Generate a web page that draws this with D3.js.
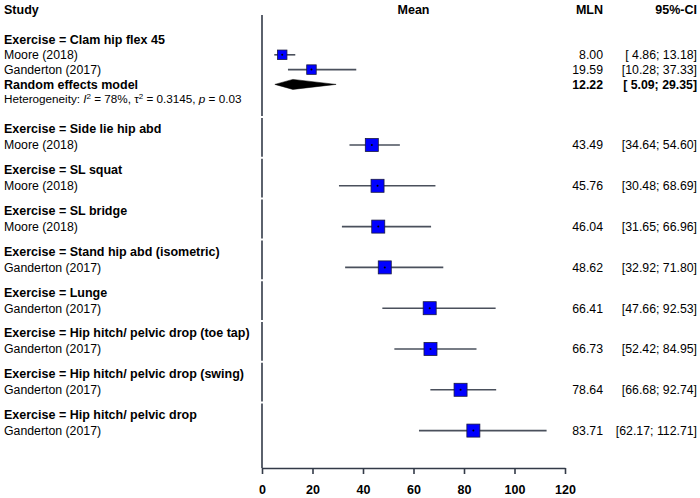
<!DOCTYPE html>
<html><head><meta charset="utf-8">
<script src="https://cdn.jsdelivr.net/npm/d3@7"></script>
<style>
html,body{margin:0;padding:0;background:#fff;}
svg{display:block;font-family:"Liberation Sans",Arial,sans-serif;}
text{white-space:pre;}
</style></head><body>
<svg id="chart" width="700" height="498"></svg>
<script>
// ---- data ----
const groupNames = ["Clam hip flex 45", "Side lie hip abd", "SL squat", "SL bridge",
  "Stand hip abd (isometric)", "Lunge", "Hip hitch/ pelvic drop (toe tap)",
  "Hip hitch/ pelvic drop (swing)", "Hip hitch/ pelvic drop"];
const studyLabels = ["Moore (2018)", "Ganderton (2017)", "Moore (2018)", "Moore (2018)", "Moore (2018)",
  "Ganderton (2017)", "Ganderton (2017)", "Ganderton (2017)", "Ganderton (2017)", "Ganderton (2017)"];
const studyGroup = [0, 0, 1, 2, 3, 4, 5, 6, 7, 8];
const means = [8.00, 19.59, 43.49, 45.76, 46.04, 48.62, 66.41, 66.73, 78.64, 83.71];
const lower = [4.86, 10.28, 34.64, 30.48, 31.65, 32.92, 47.66, 52.42, 66.68, 62.17];
const upper = [13.18, 37.33, 54.60, 68.69, 66.96, 71.80, 92.53, 84.95, 92.74, 112.71];
const boxWeight = [0.5, 0.5, 1, 1, 1, 1, 1, 1, 1, 1];
const pooled = {label: "Random effects model", mean: 12.22, lo: 5.09, hi: 29.35};
const xTicks = [0, 20, 40, 60, 80, 100, 120];

// ---- layout ----
const svg = d3.select("#chart");
const x = d3.scaleLinear().domain([0, 120]).range([262, 565]);
const axisY = 468;
const lineCol = "#4a505c";
const fmt = d3.format(".2f");
const pad = v => { const s = fmt(v); return s.length < 5 ? " " + s : s; };
const ciText = (lo, hi) => "[" + pad(lo) + "; " + fmt(hi) + "]";

// y positions
const clamHeader = 40, lh = 14.8;
const gY = d3.scaleLinear().domain([1, 8]).range([145, 430.6]); // study row of groups 1..8
function studyY(i) {
  const g = studyGroup[i];
  if (g === 0) return clamHeader + lh * (i + 1);
  return gY(g);
}
function headerY(g) { return g === 0 ? clamHeader : gY(g) - 16; }
const pooledY = clamHeader + lh * 3;
const hetY = clamHeader + lh * 4;

// headers
const hdr = svg.append("g").attr("font-weight", "bold").attr("font-size", 12.5).attr("fill", "#000");
hdr.append("text").attr("x", 4).attr("y", 10).attr("dy", "0.35em").text("Study");
hdr.append("text").attr("x", x(60)).attr("y", 10).attr("dy", "0.35em").attr("text-anchor", "middle").text("Mean");
hdr.append("text").attr("x", 603).attr("y", 10).attr("dy", "0.35em").attr("text-anchor", "end").text("MLN");
hdr.append("text").attr("x", 697).attr("y", 10).attr("dy", "0.35em").attr("text-anchor", "end").text("95%-CI");

// reference line (segmented by group)
const segs = [];
for (let g = 0; g < groupNames.length; g++) {
  const top = g === 0 ? 15 : headerY(g) - 11;
  const bot = g === groupNames.length - 1 ? axisY : headerY(g + 1) - 13;
  segs.push([top, bot]);
}
svg.append("g").selectAll("line").data(segs).join("line")
  .attr("x1", x(0)).attr("x2", x(0)).attr("y1", d => d[0]).attr("y2", d => d[1])
  .attr("stroke", "#333a48").attr("stroke-width", 1.6);

// group headers
svg.append("g").selectAll("text").data(groupNames).join("text")
  .attr("x", 4).attr("y", (d, g) => headerY(g)).attr("dy", "0.35em")
  .attr("font-weight", "bold").attr("font-size", 12.5).text(d => "Exercise = " + d);

// study labels
const idx = d3.range(means.length);
svg.append("g").selectAll("text").data(idx).join("text")
  .attr("x", 4).attr("y", i => studyY(i)).attr("dy", "0.35em")
  .attr("font-size", 12.3).text(i => studyLabels[i]);

// CI lines
svg.append("g").selectAll("line").data(idx).join("line")
  .attr("x1", i => x(lower[i])).attr("x2", i => x(upper[i]))
  .attr("y1", i => studyY(i)).attr("y2", i => studyY(i))
  .attr("stroke", lineCol).attr("stroke-width", 1.6);

// boxes
const bs = w => 9.5 + 3.5 * (w - 0.5) * 2;
svg.append("g").selectAll("rect").data(idx).join("rect")
  .attr("x", i => x(means[i]) - bs(boxWeight[i]) / 2)
  .attr("y", i => studyY(i) - bs(boxWeight[i]) / 2)
  .attr("width", i => bs(boxWeight[i])).attr("height", i => bs(boxWeight[i]))
  .attr("fill", "#0000ff").attr("stroke", "#1a1a40").attr("stroke-width", 0.8);
svg.append("g").selectAll("circle").data(idx).join("circle")
  .attr("cx", i => x(means[i])).attr("cy", i => studyY(i)).attr("r", 1)
  .attr("fill", "#000");

// numbers
svg.append("g").selectAll("text").data(idx).join("text")
  .attr("x", 603).attr("y", i => studyY(i)).attr("dy", "0.35em").attr("text-anchor", "end")
  .attr("font-size", 12.3).text(i => fmt(means[i]));
svg.append("g").selectAll("text").data(idx).join("text")
  .attr("x", 697).attr("y", i => studyY(i)).attr("dy", "0.35em").attr("text-anchor", "end")
  .attr("font-size", 12.3).text(i => ciText(lower[i], upper[i]));

// pooled
svg.append("text").attr("x", 4).attr("y", pooledY).attr("dy", "0.35em")
  .attr("font-weight", "bold").attr("font-size", 12.5).text(pooled.label);
svg.append("path")
  .attr("d", d3.line()([[x(pooled.lo), pooledY], [x(pooled.mean), pooledY - 5],
    [x(pooled.hi), pooledY], [x(pooled.mean), pooledY + 5]]) + "Z")
  .attr("fill", "#000").attr("stroke", "#000").attr("stroke-width", 0.5);
svg.append("text").attr("x", 603).attr("y", pooledY).attr("dy", "0.35em").attr("text-anchor", "end")
  .attr("font-weight", "bold").attr("font-size", 12.3).text(fmt(pooled.mean));
svg.append("text").attr("x", 697).attr("y", pooledY).attr("dy", "0.35em").attr("text-anchor", "end")
  .attr("font-weight", "bold").attr("font-size", 12.3).text(ciText(pooled.lo, pooled.hi));

// heterogeneity
const het = svg.append("text").attr("x", 4).attr("y", hetY).attr("dy", "0.35em").attr("font-size", 11.7);
het.append("tspan").text("Heterogeneity: ");
het.append("tspan").attr("font-style", "italic").text("I");
het.append("tspan").attr("font-size", 8).attr("baseline-shift", "super").text("2");
het.append("tspan").text(" = 78%, \u03C4");
het.append("tspan").attr("font-size", 8).attr("baseline-shift", "super").text("2");
het.append("tspan").text(" = 0.3145, ");
het.append("tspan").attr("font-style", "italic").text("p");
het.append("tspan").text(" = 0.03");

// axis
const axis = d3.axisBottom(x).tickValues(xTicks).tickSize(6).tickSizeOuter(0).tickPadding(11)
  .tickFormat(d3.format("d"));
const ax = svg.append("g").attr("transform", `translate(0,${axisY})`).call(axis);
ax.select(".domain").attr("stroke", "#333a48").attr("stroke-width", 1.6);
ax.selectAll(".tick line").attr("stroke", "#333a48").attr("stroke-width", 1.6);
ax.selectAll(".tick text").attr("font-family", "Liberation Sans, Arial, sans-serif")
  .attr("font-size", 12.5).attr("font-weight", "bold").attr("fill", "#000");
</script>
</body></html>
